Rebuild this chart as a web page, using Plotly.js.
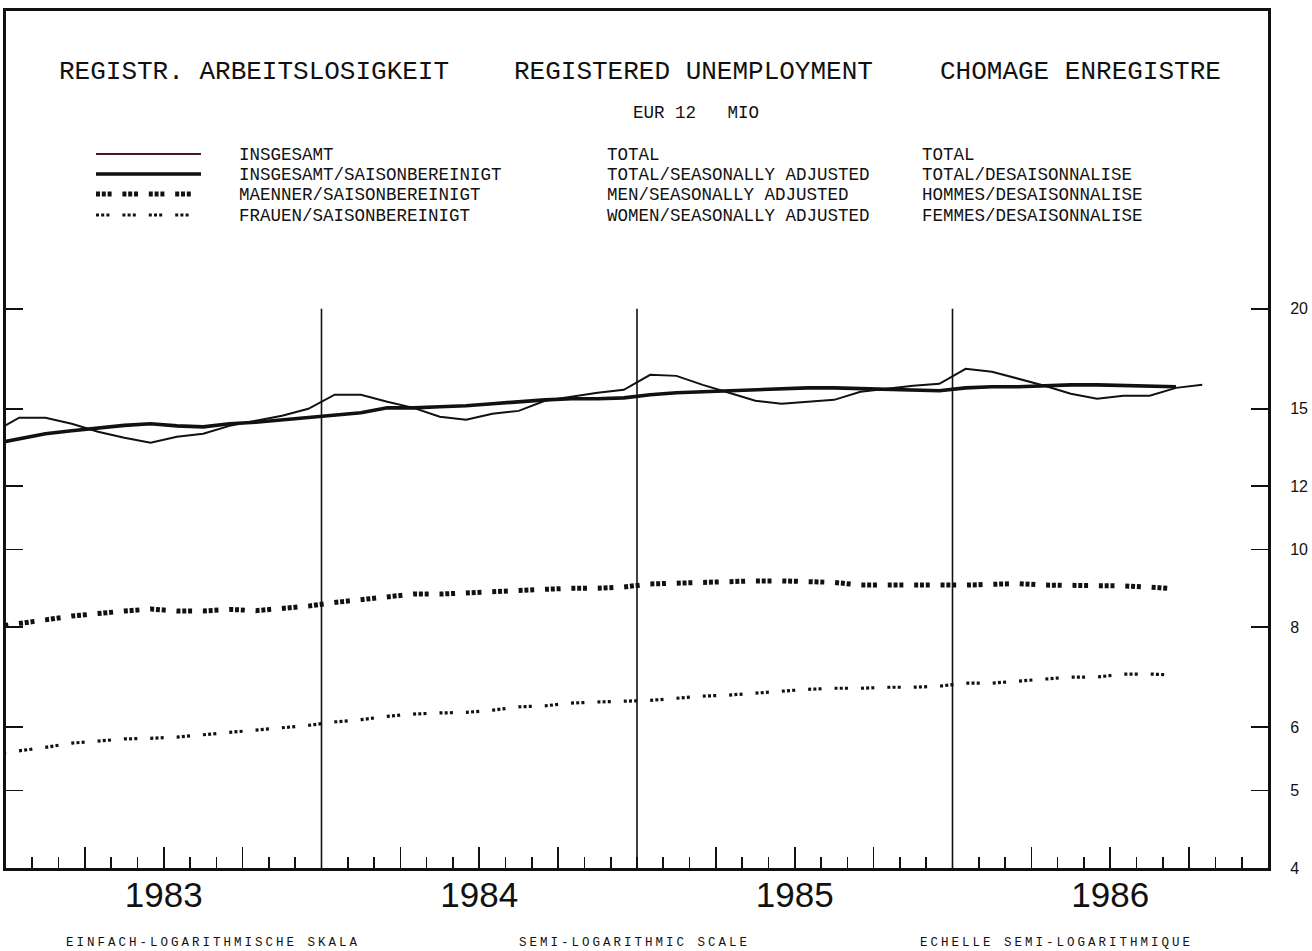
<!DOCTYPE html>
<html>
<head>
<meta charset="utf-8">
<script src="https://cdn.plot.ly/plotly-3.0.1.min.js"></script>
<style>
html, body { margin: 0; padding: 0; background: #ffffff; }
#chart { width: 1312px; height: 951px; }
.annotation[data-index="0"] text,
.annotation[data-index="1"] text,
.annotation[data-index="2"] text { letter-spacing: 3px; }
</style>
</head>
<body>
<div id="chart"></div>
<script>
// ---------------- DATA (millions, EUR 12) ----------------
const monthsTotal = [
  '1982-12',
  '1983-01','1983-02','1983-03','1983-04','1983-05','1983-06','1983-07','1983-08','1983-09','1983-10','1983-11','1983-12',
  '1984-01','1984-02','1984-03','1984-04','1984-05','1984-06','1984-07','1984-08','1984-09','1984-10','1984-11','1984-12',
  '1985-01','1985-02','1985-03','1985-04','1985-05','1985-06','1985-07','1985-08','1985-09','1985-10','1985-11','1985-12',
  '1986-01','1986-02','1986-03','1986-04','1986-05','1986-06','1986-07','1986-08','1986-09','1986-10'
];
const monthsSA = monthsTotal.slice(0, monthsTotal.indexOf('1986-09') + 1);

const totalValues = [
  14.00,
  14.62, 14.62, 14.37, 14.04, 13.80, 13.60, 13.84, 13.96, 14.28, 14.49, 14.70, 15.00,
  15.62, 15.62, 15.31, 15.04, 14.66, 14.53, 14.79, 14.91, 15.35, 15.53, 15.71, 15.84,
  16.54, 16.49, 16.07, 15.71, 15.35, 15.22, 15.31, 15.39, 15.75, 15.89, 16.03, 16.12,
  16.83, 16.69, 16.35, 16.03, 15.66, 15.44, 15.57, 15.57, 15.93, 16.07
];
const totalSAValues = [
  13.56,
  13.76, 13.96, 14.08, 14.20, 14.30, 14.37, 14.28, 14.24, 14.37, 14.43, 14.53, 14.62,
  14.74, 14.83, 15.04, 15.04, 15.09, 15.13, 15.22, 15.31, 15.39, 15.44, 15.44, 15.48,
  15.62, 15.71, 15.75, 15.80, 15.84, 15.89, 15.93, 15.93, 15.89, 15.84, 15.80, 15.80,
  15.93, 15.98, 15.98, 16.03, 16.07, 16.07, 16.03, 16.03, 15.98
];
const menSAValues = [
  8.00,
  8.07, 8.17, 8.26, 8.33, 8.38, 8.43, 8.38, 8.38, 8.42, 8.39, 8.44, 8.50,
  8.59, 8.65, 8.73, 8.80, 8.80, 8.83, 8.85, 8.87, 8.93, 8.95, 8.95, 8.98,
  9.06, 9.08, 9.11, 9.14, 9.14, 9.14, 9.11, 9.10, 9.03, 9.03, 9.03, 9.01,
  9.03, 9.05, 9.07, 9.03, 9.03, 9.01, 9.01, 8.98, 8.93
];
const womenSAValues = [
  5.55,
  5.60, 5.66, 5.73, 5.76, 5.80, 5.81, 5.83, 5.87, 5.91, 5.96, 5.99, 6.03,
  6.09, 6.13, 6.19, 6.23, 6.25, 6.26, 6.30, 6.36, 6.38, 6.43, 6.45, 6.47,
  6.48, 6.52, 6.56, 6.58, 6.62, 6.66, 6.69, 6.71, 6.71, 6.73, 6.73, 6.75,
  6.81, 6.81, 6.85, 6.89, 6.93, 6.93, 6.99, 6.99, 6.97
];

const years = [1983, 1984, 1985, 1986];
const yTickValues = [4, 5, 6, 8, 10, 12, 15, 20];

const titleTexts = ['REGISTR. ARBEITSLOSIGKEIT', 'REGISTERED UNEMPLOYMENT', 'CHOMAGE ENREGISTRE'];
const unitText = 'EUR 12\u00a0\u00a0\u00a0MIO';
const legendDE = ['INSGESAMT', 'INSGESAMT/SAISONBEREINIGT', 'MAENNER/SAISONBEREINIGT', 'FRAUEN/SAISONBEREINIGT'];
const legendEN = ['TOTAL', 'TOTAL/SEASONALLY ADJUSTED', 'MEN/SEASONALLY ADJUSTED', 'WOMEN/SEASONALLY ADJUSTED'];
const legendFR = ['TOTAL', 'TOTAL/DESAISONNALISE', 'HOMMES/DESAISONNALISE', 'FEMMES/DESAISONNALISE'];
const scaleTexts = ['EINFACH-LOGARITHMISCHE SKALA', 'SEMI-LOGARITHMIC SCALE', 'ECHELLE SEMI-LOGARITHMIQUE'];

// ---------------- helpers ----------------
// month string -> decimal year at mid-month (uniform months as on the plotter chart)
const toX = s => { const [y, m] = s.split('-').map(Number); return y + (m - 0.5) / 12; };

const L = 6, T = 11, W = 1262, H = 857;       // plot area in pixels
const px = x => (x - L) / W;                   // pixel -> paper
const py = y => (T + H - y) / H;

const yMin = Math.log10(4), yMax = Math.log10(4) + 857 / 800;
const frac20 = (Math.log10(20) - yMin) / (yMax - yMin);

const MONO = 'Liberation Mono, DejaVu Sans Mono, monospace';
const SANS = 'Liberation Sans, Arial, sans-serif';

const menDash = '4px,1.8px,4px,1.8px,4px,10.8px';
const womenDash = '3px,2.2px,3px,2.2px,3px,13px';

// ---------------- traces ----------------
const traces = [
  { x: monthsSA.map(toX), y: womenSAValues, mode: 'lines', name: 'FRAUEN',
    line: { color: '#111', width: 3.2, dash: womenDash }, hoverinfo: 'skip' },
  { x: monthsSA.map(toX), y: menSAValues, mode: 'lines', name: 'MAENNER',
    line: { color: '#111', width: 5, dash: menDash }, hoverinfo: 'skip' },
  { x: monthsSA.map(toX), y: totalSAValues, mode: 'lines', name: 'INSGESAMT SA',
    line: { color: '#111', width: 3.6 }, hoverinfo: 'skip' },
  { x: monthsTotal.map(toX), y: totalValues, mode: 'lines', name: 'INSGESAMT',
    line: { color: '#111', width: 2 }, hoverinfo: 'skip' }
];

// ---------------- annotations ----------------
const annotations = [];
const scaleCenters = [213, 634, 1056];
scaleTexts.forEach((t, i) => annotations.push({
  text: t, xref: 'paper', yref: 'paper', x: px(scaleCenters[i]), y: py(943),
  xanchor: 'center', yanchor: 'middle', showarrow: false,
  font: { family: MONO, size: 12.5, color: '#111' }
}));
const titleX = [57, 512, 938];
titleTexts.forEach((t, i) => annotations.push({
  text: t, xref: 'paper', yref: 'paper', x: px(titleX[i]), y: py(72),
  xanchor: 'left', yanchor: 'middle', showarrow: false,
  font: { family: MONO, size: 26, color: '#111' }
}));
annotations.push({
  text: unitText, xref: 'paper', yref: 'paper', x: px(631), y: py(113),
  xanchor: 'left', yanchor: 'middle', showarrow: false,
  font: { family: MONO, size: 17.5, color: '#111' }
});
const rowY = [155, 175, 195, 216];
[[legendDE, 237], [legendEN, 605], [legendFR, 920]].forEach(([arr, xx]) => {
  arr.forEach((t, i) => annotations.push({
    text: t, xref: 'paper', yref: 'paper', x: px(xx), y: py(rowY[i]),
    xanchor: 'left', yanchor: 'middle', showarrow: false,
    font: { family: MONO, size: 17.5, color: '#111' }
  }));
});

// ---------------- shapes ----------------
const shapes = [];
// year boundary lines (up to the 20 level)
years.slice(1).forEach(yr => shapes.push({
  type: 'line', xref: 'x', yref: 'paper', x0: yr, x1: yr, y0: 0, y1: frac20,
  line: { color: '#111', width: 1.6 }, layer: 'above'
}));
// legend samples
const legStyles = [
  { color: '#4a1524', width: 2, dash: 'solid' },
  { color: '#111', width: 3.6, dash: 'solid' },
  { color: '#111', width: 5, dash: menDash },
  { color: '#111', width: 3.2, dash: womenDash }
];
legStyles.forEach((st, i) => shapes.push({
  type: 'line', xref: 'paper', yref: 'paper', x0: px(96), x1: px(201), y0: py(rowY[i] - 1), y1: py(rowY[i] - 1),
  line: st
}));

// ---------------- axes ----------------
const qVals = [], qText = [];
years.forEach(yr => {
  qVals.push(yr + 0.25, yr + 0.5, yr + 0.75);
  qText.push('', String(yr), '');
});

const layout = {
  width: 1312, height: 951,
  margin: { l: L, r: 1312 - L - W, t: T, b: 951 - T - H, pad: 0 },
  paper_bgcolor: '#ffffff', plot_bgcolor: '#ffffff',
  showlegend: false,
  xaxis: {
    type: 'linear', range: [1983, 1987], fixedrange: true,
    showgrid: false, zeroline: false,
    showline: true, linecolor: '#111', linewidth: 3, mirror: true,
    tickmode: 'array', tickvals: qVals, ticktext: qText,
    ticks: 'inside', ticklen: 21, tickwidth: 1.6, tickcolor: '#111',
    ticklabelstandoff: -6,
    tickfont: { family: SANS, size: 35, color: '#111' },
    minor: { tick0: 1983, dtick: 1 / 12, ticks: 'inside', ticklen: 11, tickwidth: 1.6, tickcolor: '#111', showgrid: false }
  },
  yaxis: {
    type: 'log', range: [yMin, yMax], fixedrange: true, side: 'right',
    showgrid: false, zeroline: false,
    showline: true, linecolor: '#111', linewidth: 3, mirror: 'ticks',
    tickmode: 'array', tickvals: yTickValues, ticktext: yTickValues.map(String),
    ticks: 'inside', ticklen: 17, tickwidth: 1.6, tickcolor: '#111',
    ticklabelstandoff: 16,
    tickfont: { family: SANS, size: 16, color: '#111' }
  },
  annotations: annotations,
  shapes: shapes
};

Plotly.newPlot('chart', traces, layout, { displayModeBar: false, staticPlot: true });
</script>
</body>
</html>
